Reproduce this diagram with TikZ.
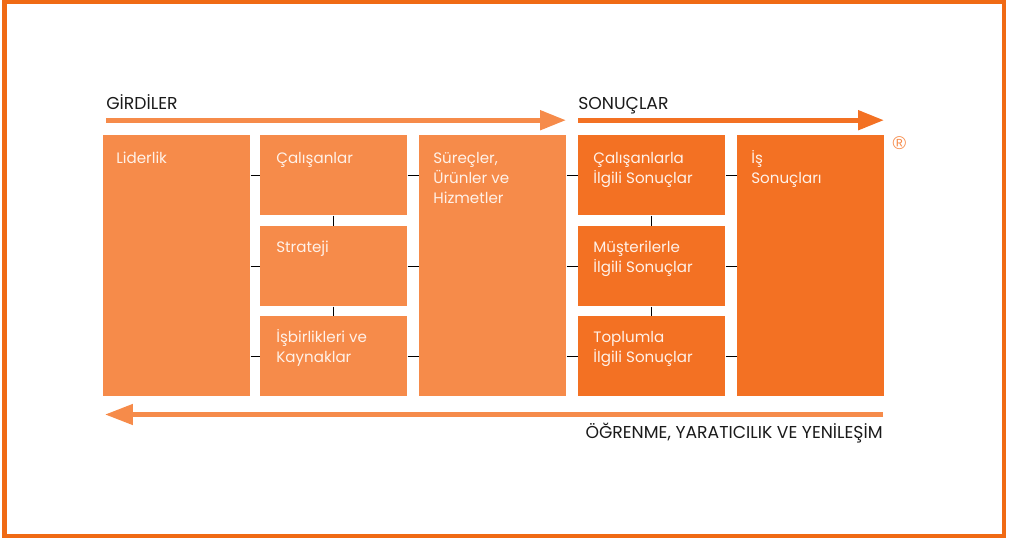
\documentclass[tikz,border=0pt]{standalone}
\usepackage{fontspec}
\setmainfont{Poppins}
\newfontfamily\regfont{Liberation Sans}
\usetikzlibrary{arrows.meta,positioning}
\definecolor{lightorange}{HTML}{F68B4A}
\definecolor{darkorange}{HTML}{F37123}
\definecolor{frameorange}{HTML}{F06A14}
\definecolor{creamtext}{HTML}{FFF1E8}
\definecolor{headtext}{HTML}{1A1A1A}

\begin{document}
\begin{tikzpicture}[x=0.02cm, y=-0.02cm,
    tallbox/.style={anchor=north west, inner sep=0, draw=none, minimum width=2.94cm, minimum height=5.22cm},
    smallbox/.style={anchor=north west, inner sep=0, draw=none, minimum width=2.94cm, minimum height=1.6cm},
    boxlabel/.style={anchor=base west, inner sep=0, align=left, text=creamtext, font=\fontsize{8.6}{11.3}\selectfont},
    heading/.style={inner sep=0, text=headtext, font=\fontsize{9.8}{11}\selectfont},
    link/.style={draw=black, line width=0.02cm},
    flow/.style={line width=0.1cm, -{Triangle[length=0.52cm, width=0.38cm]}}]
        \useasboundingbox (0,0) rectangle (1009,542);
        % Frame
        \draw[frameorange, line width=0.09cm] (4.5,1.5) rectangle (1004,536);

        % Inputs
        \node[tallbox, fill=lightorange] (lid) at (103,135) {};
        \node[smallbox, fill=lightorange] (cal) at (260,135) {};
        \node[smallbox, fill=lightorange] (str) at (260,226) {};
        \node[smallbox, fill=lightorange] (isb) at (260,316) {};
        \node[tallbox, fill=lightorange] (sur) at (419,135) {};

        % Results
        \node[smallbox, fill=darkorange] (cso) at (578,135) {};
        \node[smallbox, fill=darkorange] (mso) at (578,226) {};
        \node[smallbox, fill=darkorange] (tso) at (578,316) {};
        \node[tallbox, fill=darkorange] (iso) at (737,135) {};

        % Box texts (anchored on the last line)
        \node[boxlabel] (lid-t) at ([shift={(13,28)}]lid.north west) {Liderlik};
        \node[boxlabel] (cal-t) at ([shift={(16,28)}]cal.north west) {Çalışanlar};
        \node[boxlabel] (str-t) at ([shift={(16,26)}]str.north west) {Strateji};
        \node[boxlabel] (isb-t) at ([shift={(16,46)}]isb.north west) {İşbirlikleri ve\\Kaynaklar};
        \node[boxlabel] (sur-t) at ([shift={(14,68)}]sur.north west) {Süreçler,\\Ürünler ve\\Hizmetler};
        \node[boxlabel] (cso-t) at ([shift={(15,48)}]cso.north west) {Çalışanlarla\\İlgili Sonuçlar};
        \node[boxlabel] (mso-t) at ([shift={(15,46)}]mso.north west) {Müşterilerle\\İlgili Sonuçlar};
        \node[boxlabel] (tso-t) at ([shift={(15,46)}]tso.north west) {Toplumla\\İlgili Sonuçlar};
        \node[boxlabel] (iso-t) at ([shift={(14,48)}]iso.north west) {İş\\Sonuçları};

        % Connectors
        \draw[link] (lid.east |- cal.west) -- (cal.west);
        \draw[link] (lid.east |- str.west) -- (str.west);
        \draw[link] (lid.east |- isb.west) -- (isb.west);
        \draw[link] (cal.east) -- (sur.west |- cal.east);
        \draw[link] (str.east) -- (sur.west |- str.east);
        \draw[link] (isb.east) -- (sur.west |- isb.east);
        \draw[link] (cal.south) -- (str.north);
        \draw[link] (str.south) -- (isb.north);
        \draw[link] (sur.east |- cso.west) -- (cso.west);
        \draw[link] (sur.east |- mso.west) -- (mso.west);
        \draw[link] (sur.east |- tso.west) -- (tso.west);
        \draw[link] (cso.east) -- (iso.west |- cso.east);
        \draw[link] (mso.east) -- (iso.west |- mso.east);
        \draw[link] (tso.east) -- (iso.west |- tso.east);
        \draw[link] (cso.south) -- (mso.north);
        \draw[link] (mso.south) -- (tso.north);

        % Flow arrows
        \coordinate (in-from) at (106,120.2);
        \coordinate (in-to) at (566,120.2);
        \coordinate (out-from) at (578,120.2);
        \coordinate (out-to) at (884,120.2);
        \coordinate (learn-from) at (883,414.5);
        \coordinate (learn-to) at (105,414.5);
        \draw[flow, lightorange] (in-from) -- (in-to);
        \draw[flow, darkorange] (out-from) -- (out-to);
        \draw[flow, lightorange, line width=0.094cm, -{Triangle[length=0.56cm, width=0.4cm]}] (learn-from) -- (learn-to);

        % Headings
        \node[heading, anchor=base west] (girdi) at (106,109) {GİRDİLER};
        \node[heading, anchor=base west] (sonuc) at (578,109) {SONUÇLAR};
        \node[heading, anchor=base east] (learn) at (883,438) {ÖĞRENME, YARATICILIK VE YENİLEŞİM};
        \node[inner sep=0, text=lightorange, font=\regfont\fontsize{10.5}{10.5}\selectfont] (reg) at (899.5,143) {\textregistered};
\end{tikzpicture}
\end{document}
